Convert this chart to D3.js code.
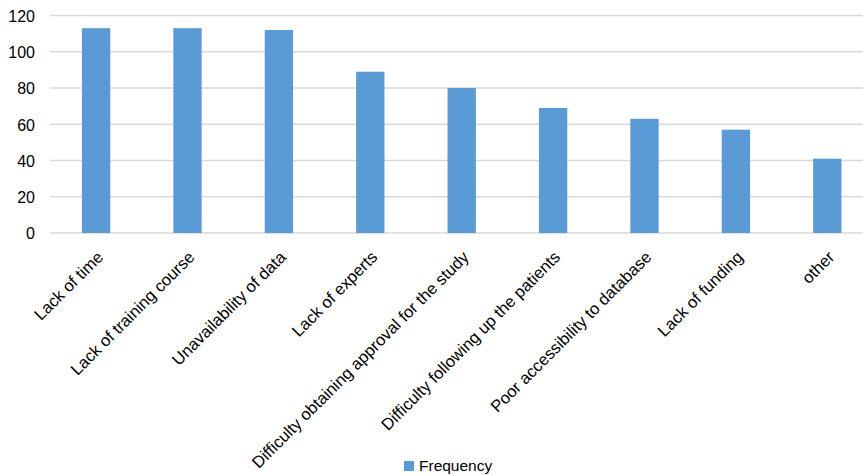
<!DOCTYPE html>
<html><head><meta charset="utf-8">
<script src="https://cdn.jsdelivr.net/npm/d3@7"></script>
<style>body{margin:0;background:#fff}svg{display:block}</style>
</head><body>
<svg id="c" width="863" height="476"></svg>
<script>
const categories = ["Lack of time","Lack of training course","Unavailability of data","Lack of experts","Difficulty obtaining approval for the study","Difficulty following up the patients","Poor accessibility to database","Lack of funding","other"];
const frequency = [113,113,112,89,80,69,63,57,41];
const yTicks = [0,20,40,60,80,100,120];
const seriesName = "Frequency";

const svg = d3.select("#c");
const font = "'Liberation Sans', Arial, sans-serif";
const x = d3.scaleBand().domain(categories).range([50.4, 873]).padding(0);
const y = d3.scaleLinear().domain([0,120]).range([233, 15.5]);
const barW = x.bandwidth()*0.31;

// gridlines
svg.append("g").selectAll("line").data(yTicks).join("line")
  .attr("x1", 50).attr("x2", 863)
  .attr("y1", d=>y(d)).attr("y2", d=>y(d))
  .attr("stroke", "#d9d9d9").attr("stroke-width", 1.3);

// y axis labels
const yAxis = d3.axisLeft(y).tickValues(yTicks).tickSize(0).tickPadding(0);
const ga = svg.append("g").attr("transform","translate(35,0)").call(yAxis);
ga.select(".domain").remove();
ga.selectAll("text").attr("font-family", font).attr("font-size", 16).attr("fill","#000").attr("dy","0.36em");

// bars
svg.append("g").selectAll("rect").data(frequency).join("rect")
  .attr("x", (d,i)=>x(categories[i]) + x.bandwidth()/2 - barW/2)
  .attr("width", barW)
  .attr("y", d=>y(d))
  .attr("height", d=>y(0)-y(d))
  .attr("fill", "#5b9bd5");

// x labels
const xAxis = d3.axisBottom(x).tickSize(0).tickPadding(0);
const gx = svg.append("g").attr("transform","translate(0,233)").call(xAxis);
gx.select(".domain").remove();
gx.selectAll("text")
  .attr("font-family", font).attr("font-size", 16.6).attr("fill","#000")
  .attr("text-anchor","end")
  .attr("transform","translate(4,21) rotate(-45)")
  .attr("y", 0).attr("dy", "0.35em");

// legend
const lg = svg.append("g");
lg.append("rect").attr("x",404).attr("y",461).attr("width",10).attr("height",10).attr("fill","#5b9bd5");
lg.append("text").attr("x",419).attr("y",470.5).text(seriesName)
  .attr("font-family", font).attr("font-size", 15.5).attr("fill","#000");
</script>
</body></html>
